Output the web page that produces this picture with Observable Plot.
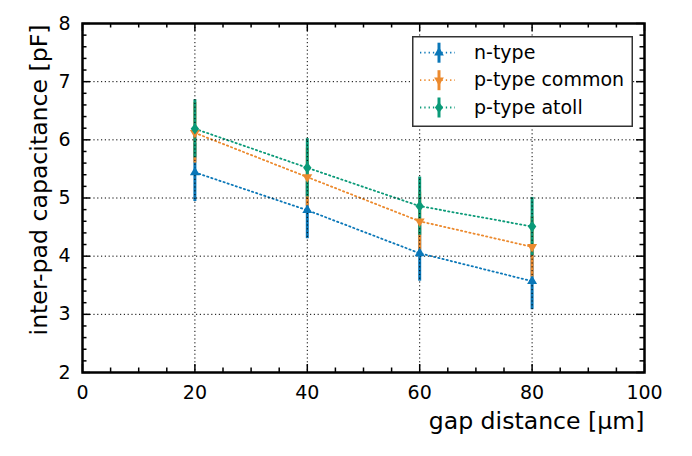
<!DOCTYPE html>
<html>
<head>
<meta charset="utf-8">
<script src="https://cdn.jsdelivr.net/npm/d3@7"></script>
<script src="https://cdn.jsdelivr.net/npm/@observablehq/plot@0.6"></script>
<style>
  html, body { margin: 0; padding: 0; background: white; }
  #wrap { position: relative; width: 692px; height: 456px; font-family: "DejaVu Sans", sans-serif; }
  #legend { position: absolute; left: 412px; top: 36px; }
</style>
</head>
<body>
<div id="wrap"></div>
<script>
// ---- data ----
const gaps = [20, 40, 60, 80];
const seriesNames = ["n-type", "p-type common", "p-type atoll"];
const seriesColors = ["#0a77b8", "#ec8a2e", "#0b9a78"];
const nType = [5.44, 4.79, 4.05, 3.57];
const nTypeErr = [0.50, 0.49, 0.48, 0.49];
const pCommon = [6.12, 5.36, 4.60, 4.16];
const pCommonErr = [0.52, 0.50, 0.50, 0.52];
const pAtoll = [6.19, 5.52, 4.86, 4.51];
const pAtollErr = [0.50, 0.50, 0.50, 0.50];
const xTicks = [0, 20, 40, 60, 80, 100];
const yTicks = [2, 3, 4, 5, 6, 7, 8];
const xGrid = [20, 40, 60, 80];
const yGrid = [3, 4, 5, 6, 7];
const xMinor = [5, 10, 15, 25, 30, 35, 45, 50, 55, 65, 70, 75, 85, 90, 95];
const yMinor = [2.2, 2.4, 2.6, 2.8, 3.2, 3.4, 3.6, 3.8, 4.2, 4.4, 4.6, 4.8,
                5.2, 5.4, 5.6, 5.8, 6.2, 6.4, 6.6, 6.8, 7.2, 7.4, 7.6, 7.8];

const values = [nType, pCommon, pAtoll];
const errors = [nTypeErr, pCommonErr, pAtollErr];

// ---- symbols ----
const triUp = {
  draw(ctx, size) {
    const y = -Math.sqrt(size / (Math.sqrt(3) * 3));
    ctx.moveTo(0, y * 2); ctx.lineTo(-Math.sqrt(3) * y, -y); ctx.lineTo(Math.sqrt(3) * y, -y); ctx.closePath();
  }
};
const triDown = {
  draw(ctx, size) {
    const y = -Math.sqrt(size / (Math.sqrt(3) * 3));
    ctx.moveTo(0, -y * 2); ctx.lineTo(-Math.sqrt(3) * y, y); ctx.lineTo(Math.sqrt(3) * y, y); ctx.closePath();
  }
};
const thinDiamond = {
  draw(ctx, size) {
    const s = Math.sqrt(size);
    const h = s * 0.86, w = s * 0.64;
    ctx.moveTo(0, -h); ctx.lineTo(w, 0); ctx.lineTo(0, h); ctx.lineTo(-w, 0); ctx.closePath();
  }
};
const symbols = [triUp, triDown, thinDiamond];

const W = 692, H = 456, mL = 82, mR = 48, mT = 23, mB = 84;
const plotW = W - mL - mR, plotH = H - mT - mB;
const majorLen = 8, minorLen = 4.5;
const lineDash = "1.3,3";

const seriesMarks = [];
values.forEach((vals, i) => {
  const rows = gaps.map((g, j) => ({gap: g, c: vals[j], lo: vals[j] - errors[i][j], hi: vals[j] + errors[i][j]}));
  seriesMarks.push(
    Plot.line(rows, {x: "gap", y: "c", stroke: seriesColors[i], strokeWidth: 1.8, strokeDasharray: lineDash}),
    Plot.ruleX(rows, {x: "gap", y1: "lo", y2: "hi", stroke: seriesColors[i], strokeWidth: 3})
  );
});
const dotMarks = values.map((vals, i) => {
  const rows = gaps.map((g, j) => ({gap: g, c: vals[j]}));
  return Plot.dot(rows, {x: "gap", y: "c", fill: seriesColors[i], stroke: "none", r: 3.7, symbol: symbols[i]});
});

const tickStyle = {stroke: "black", strokeWidth: 1.5};

const chart = Plot.plot({
  width: W, height: H,
  marginLeft: mL, marginRight: mR, marginTop: mT, marginBottom: mB,
  x: {domain: [0, 100]},
  y: {domain: [2, 8]},
  style: {fontFamily: "DejaVu Sans, sans-serif", background: "white", color: "black"},
  marks: [
    ...seriesMarks,
    Plot.ruleX(xGrid, {x: d => d, stroke: "black", strokeWidth: 1, strokeDasharray: "1.2,2.6"}),
    Plot.ruleY(yGrid, {y: d => d, stroke: "black", strokeWidth: 1, strokeDasharray: "1.2,2.6"}),
    ...dotMarks,
    // inward ticks
    Plot.tickX(xTicks, {x: d => d, insetTop: plotH - majorLen, ...tickStyle}),
    Plot.tickX(xTicks, {x: d => d, insetBottom: plotH - majorLen, ...tickStyle}),
    Plot.tickX(xMinor, {x: d => d, insetTop: plotH - minorLen, ...tickStyle}),
    Plot.tickX(xMinor, {x: d => d, insetBottom: plotH - minorLen, ...tickStyle}),
    Plot.tickY(yTicks, {y: d => d, insetRight: plotW - majorLen, ...tickStyle}),
    Plot.tickY(yTicks, {y: d => d, insetLeft: plotW - majorLen, ...tickStyle}),
    Plot.tickY(yMinor, {y: d => d, insetRight: plotW - minorLen, ...tickStyle}),
    Plot.tickY(yMinor, {y: d => d, insetLeft: plotW - minorLen, ...tickStyle}),
    Plot.axisX({ticks: xTicks, tickSize: 0, tickPadding: 12.5, fontSize: 19, label: null, tickFormat: d => String(d)}),
    Plot.axisY({ticks: yTicks, tickSize: 0, tickPadding: 12, fontSize: 19, label: null, tickFormat: d => String(d)}),
    Plot.text(["gap distance [µm]"], {frameAnchor: "bottom-right", dy: 56, textAnchor: "end", lineAnchor: "bottom", fontSize: 23.6, fill: "black"}),
    Plot.text(["inter-pad capacitance [pF]"], {frameAnchor: "top-left", dx: -35.5, dy: 1, rotate: -90, textAnchor: "end", lineAnchor: "bottom", fontSize: 23.6, fill: "black"}),
    Plot.frame({stroke: "black", strokeWidth: 2.5})
  ]
});

const wrap = document.getElementById("wrap");
wrap.appendChild(chart);

// ---- legend ----
const rowY = [16.7, 44.2, 71.5];
const symPaths = [
  "M0,-5.6L4.85,2.8L-4.85,2.8Z",
  "M0,5.6L4.85,-2.8L-4.85,-2.8Z",
  "M0,-5.5L4.1,0L0,5.5L-4.1,0Z"
];
let svg = `<svg id="legend" width="221" height="91" xmlns="http://www.w3.org/2000/svg" font-family="DejaVu Sans, sans-serif">`;
svg += `<rect x="0.75" y="0.75" width="219.5" height="89.5" fill="white" stroke="#333" stroke-width="1.5"/>`;
seriesNames.forEach((name, i) => {
  const cy = rowY[i];
  const c = seriesColors[i];
  svg += `<line x1="8" x2="43" y1="${cy}" y2="${cy}" stroke="${c}" stroke-width="1.8" stroke-dasharray="${lineDash}"/>`;
  svg += `<line x1="27" x2="27" y1="${cy - 10}" y2="${cy + 10}" stroke="${c}" stroke-width="3"/>`;
  svg += `<path transform="translate(27,${cy})" d="${symPaths[i]}" fill="${c}"/>`;
  svg += `<text x="62" y="${cy + 6}" font-size="19" fill="black">${name}</text>`;
});
svg += `</svg>`;
wrap.insertAdjacentHTML("beforeend", svg);
</script>
</body>
</html>
